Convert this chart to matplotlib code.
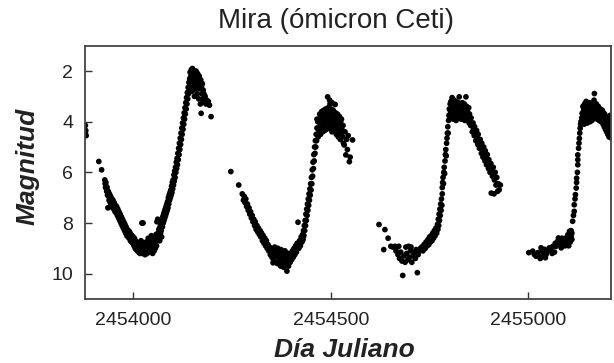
import matplotlib
matplotlib.use('Agg')
import matplotlib.pyplot as plt

plt.rcParams['font.family'] = ['Liberation Sans', 'DejaVu Sans']

# Dia juliano = jd_base + dias ; (dias, magnitud)
jd_base = 2454000

ciclo0 = [(-121, 4.15), (-120, 4.35), (-119, 4.55), (-121, 4.45)]

ciclo1 = [
    (-87, 5.57), (-80, 5.9),
    (-72, 6.3), (-71, 6.45), (-70, 6.6), (-69, 6.4), (-68, 6.55), (-67, 6.75), (-66, 6.6), (-65, 6.9),
    (-64, 7.4), (-63, 6.75), (-62, 6.95), (-61, 7.1), (-60, 6.85), (-59, 7.05), (-58, 7.2), (-57, 6.95),
    (-56, 7.15), (-55, 7.3), (-54, 7.05), (-53, 7.25), (-52, 7.4), (-51, 7.1), (-50, 7.3), (-49, 7.45),
    (-48, 7.2), (-47, 7.35), (-46, 7.55), (-45, 7.3), (-44, 7.45), (-43, 7.6), (-42, 7.35), (-41, 7.5),
    (-40, 7.7), (-39, 7.45), (-38, 7.6), (-37, 7.8), (-36, 7.55), (-35, 7.7), (-34, 7.9), (-33, 7.65),
    (-32, 7.8), (-31, 8.0), (-30, 7.75), (-29, 7.9), (-28, 8.1), (-27, 7.85), (-26, 8.0), (-25, 8.2),
    (-24, 7.95), (-23, 8.1), (-22, 8.3), (-21, 8.05), (-20, 8.2), (-19, 8.4), (-18, 8.15), (-17, 8.3),
    (-16, 8.5), (-15, 8.25), (-14, 8.4), (-13, 8.55), (-12, 8.3), (-11, 8.45), (-10, 8.6), (-9, 8.35),
    (-8, 8.5), (-7, 8.7), (-6, 8.45), (-5, 8.6), (-4, 8.75), (-3, 8.5), (-2, 8.65), (-1, 8.8), (0, 8.55),
    (1, 8.7), (2, 8.9), (3, 8.6), (4, 8.8), (5, 9.0), (6, 8.7), (7, 8.85), (8, 9.05), (9, 8.75),
    (10, 8.9), (11, 9.1), (12, 8.8), (13, 8.95), (14, 9.15), (15, 8.85), (16, 9.0), (17, 9.2),
    (18, 8.9), (19, 9.05), (20, 8.7), (21, 9.1), (22, 8.0), (23, 9.2), (24, 8.8), (25, 8.0),
    (26, 9.0), (27, 9.15), (28, 8.85), (29, 9.05), (30, 9.25), (31, 8.9), (32, 9.1), (33, 8.75),
    (34, 9.0), (35, 9.2), (36, 8.85), (37, 9.05), (38, 8.6), (39, 8.95), (40, 9.15), (41, 8.8),
    (42, 9.0), (43, 8.65), (44, 9.1), (45, 8.9), (46, 8.5), (47, 9.05), (48, 8.8), (49, 9.2),
    (50, 8.7), (51, 8.95), (52, 8.55), (53, 9.1), (54, 8.85), (55, 8.6), (56, 9.0), (57, 8.75),
    (58, 8.45), (59, 8.9), (60, 7.95), (61, 8.65), (62, 7.85), (63, 8.4), (64, 8.6), (65, 8.25),
    (66, 7.95), (67, 8.7), (68, 8.15), (69, 8.4), (70, 8.0), (71, 8.3), (72, 8.55),
    (73, 7.9), (74, 8.15), (75, 7.75), (76, 8.0), (77, 7.65), (78, 7.9), (79, 7.55), (80, 7.8),
    (81, 7.45), (82, 7.7), (83, 7.35), (84, 7.6), (85, 7.25), (86, 7.5), (87, 7.15), (88, 7.4),
    (89, 7.0), (90, 7.25), (91, 6.9), (92, 7.1), (93, 6.8), (94, 7.0), (95, 6.7), (96, 6.9),
    (97, 6.55), (98, 6.8), (99, 6.4), (100, 6.65), (101, 6.3), (102, 6.5), (103, 6.1), (104, 6.35),
    (105, 5.95), (106, 6.2), (107, 5.8), (108, 6.0), (109, 5.6), (110, 5.85), (111, 5.45), (112, 5.7),
    (113, 5.25), (114, 5.5), (115, 5.05), (116, 5.3), (117, 4.85), (118, 5.1), (119, 4.65), (120, 4.9),
    (121, 4.45), (122, 4.7), (123, 4.25), (124, 4.5), (125, 4.05), (126, 4.3), (127, 3.85), (128, 4.1),
    (129, 3.65), (130, 3.9), (131, 3.45), (132, 3.7), (133, 3.25), (134, 3.5), (135, 3.05), (136, 3.3),
    (137, 2.85), (138, 3.1), (139, 2.65), (140, 2.9), (141, 2.45), (142, 2.7), (143, 2.3),
    (144, 2.05), (145, 2.5), (146, 2.2), (147, 1.95), (148, 2.35), (149, 2.8), (150, 1.9), (151, 2.15),
    (152, 2.6), (153, 2.0), (154, 2.4), (155, 3.0), (156, 2.1), (157, 2.3), (158, 2.7), (159, 2.0),
    (160, 2.45), (161, 2.2), (162, 2.9), (163, 2.1), (164, 2.55), (165, 2.3), (166, 3.1), (167, 2.2),
    (168, 2.7), (169, 2.45), (170, 3.3), (171, 2.35), (172, 3.67), (173, 2.6), (174, 2.9), (175, 2.5),
    (176, 3.1), (177, 2.75), (178, 3.2), (179, 2.9), (180, 3.15), (182, 3.0), (184, 3.3), (186, 3.15),
    (188, 3.28), (190, 3.2), (193, 3.35), (197, 3.8), (161, 2.7), (157, 2.55), (153, 2.3), (149, 2.1),
]

ciclo2 = [
    (247, 5.97), (267, 6.5),
    (276, 6.85), (279, 7.1), (281, 6.95), (283, 7.2), (285, 7.05), (287, 7.35), (289, 7.25), (291, 7.5),
    (293, 7.4), (295, 7.65), (297, 7.55), (299, 7.8), (301, 7.7), (303, 7.95), (305, 7.85), (307, 8.1),
    (309, 7.95), (311, 8.25), (313, 8.1), (315, 8.35), (317, 8.2), (319, 8.45), (321, 8.3), (323, 8.55),
    (325, 8.4), (327, 8.7), (329, 8.5), (331, 8.8), (333, 8.6), (335, 8.9), (337, 8.7), (339, 9.0),
    (341, 8.85), (343, 9.1),
    (345, 8.95), (347, 9.25), (349, 9.05), (351, 9.35), (353, 9.15), (355, 9.45), (357, 9.2), (359, 9.55),
    (361, 9.3), (363, 9.1), (365, 9.6), (367, 9.35), (369, 9.5), (371, 9.2), (373, 9.7), (375, 9.4),
    (377, 9.55), (379, 9.25), (381, 9.75), (383, 9.45), (385, 9.6), (387, 9.3), (389, 9.9), (391, 9.5),
    (393, 9.7), (395, 9.35), (397, 9.55), (399, 9.2), (401, 9.45), (403, 9.1), (405, 9.35), (407, 9.0),
    (409, 9.25), (411, 8.9), (413, 9.15), (415, 8.8), (417, 7.97), (419, 9.0), (421, 8.7), (423, 8.9),
    (425, 8.55), (427, 8.75), (358, 8.95), (366, 9.0), (374, 9.05), (384, 9.1), (392, 9.2), (354, 9.57),
    (429, 8.45), (430, 8.65), (431, 8.3), (432, 8.5), (433, 8.1), (434, 8.3), (435, 7.9), (436, 8.1),
    (437, 7.65), (438, 7.9), (439, 7.45), (440, 7.7), (441, 7.25), (442, 7.5), (443, 7.05), (444, 7.3),
    (445, 6.85), (446, 7.1), (447, 6.65), (448, 6.9), (449, 6.45), (450, 6.7), (451, 6.2), (452, 6.45),
    (453, 5.9), (454, 6.15), (455, 5.6), (456, 5.85), (457, 5.3), (458, 5.55), (459, 5.0), (460, 5.25),
    (461, 4.75), (462, 5.0), (463, 4.5), (464, 4.75), (465, 4.25), (466, 4.5), (467, 4.0), (468, 4.3),
    (470, 3.9), (471, 4.3), (472, 3.7), (473, 4.1), (474, 4.5), (475, 3.8), (476, 4.2), (477, 3.6),
    (478, 4.0), (479, 4.4), (480, 3.7), (481, 4.15), (482, 3.55), (483, 3.95), (484, 4.35), (485, 3.75),
    (486, 4.1), (487, 3.5), (488, 3.9), (489, 4.3), (490, 3.65), (491, 4.05), (492, 3.02), (493, 3.45),
    (494, 3.85), (495, 4.25), (496, 3.6), (497, 4.0), (498, 3.3), (499, 3.75), (500, 4.2), (501, 3.5),
    (502, 3.9), (503, 4.4), (504, 3.7), (505, 4.1), (506, 3.55), (507, 3.95), (508, 4.35), (509, 3.8),
    (510, 4.2), (511, 3.32), (512, 3.65), (513, 4.05), (514, 4.5), (515, 3.85), (516, 4.25), (517, 3.7),
    (518, 4.1), (519, 4.6), (520, 3.95), (521, 4.35), (522, 3.8), (523, 4.2), (524, 4.7), (525, 4.0),
    (526, 4.45), (527, 3.9), (528, 4.3), (530, 4.6), (531, 4.15), (532, 4.85), (534, 4.92), (536, 4.4),
    (538, 5.31), (540, 4.7), (542, 5.1), (544, 4.55), (547, 5.58), (549, 5.4), (555, 4.72),
    (497, 3.15), (503, 3.25), (465, 3.9), (468, 4.6),
]

ciclo3 = [
    (622, 8.06), (637, 8.26), (645, 8.6), (634, 9.05),
    (652, 8.92), (657, 8.95), (662, 8.92), (667, 8.95), (672, 8.92), (690, 8.95), (697, 8.92), (703, 8.95),
    (665, 9.1), (670, 9.25), (674, 9.4), (677, 9.15), (680, 9.5), (682, 10.07), (685, 9.3), (688, 9.55),
    (692, 9.2), (695, 9.45), (699, 9.35), (702, 9.1), (705, 9.55), (708, 9.3), (711, 9.15), (714, 9.4),
    (716, 9.05), (719, 9.96), (721, 9.25), (724, 9.1), (727, 9.0),
    (730, 8.95), (733, 9.1), (736, 8.85), (739, 9.0), (741, 8.75), (744, 8.9), (746, 8.65), (748, 8.85),
    (750, 8.55), (752, 8.75), (754, 8.5), (756, 8.7), (758, 8.4), (760, 8.6), (762, 8.3), (764, 8.5),
    (766, 8.2), (768, 8.4), (770, 8.05), (771, 8.25), (772, 7.85), (773, 8.1), (774, 7.65), (775, 7.9),
    (776, 7.45), (777, 7.7), (778, 7.25), (779, 7.5), (780, 7.05), (781, 7.3), (782, 6.85), (782, 6.6),
    (783, 6.4), (784, 6.2), (785, 6.45), (786, 6.0), (787, 5.8), (788, 6.05), (789, 5.55), (790, 5.3),
    (791, 5.1), (792, 5.35), (793, 4.85), (794, 4.65), (795, 4.45), (796, 4.2), (797, 4.45), (798, 3.95),
    (799, 3.75), (800, 3.5), (801, 3.8), (802, 3.3),
    (803, 3.6), (804, 3.2), (805, 3.85), (806, 3.4), (807, 3.05), (808, 3.65), (809, 3.3), (810, 3.9),
    (811, 3.5), (812, 3.15), (813, 3.75), (814, 3.4), (815, 3.6), (816, 3.2), (817, 3.95), (818, 3.45),
    (819, 3.7), (820, 3.3), (821, 3.55), (822, 3.85), (823, 3.25), (824, 3.6), (825, 3.02), (826, 3.45),
    (827, 3.75), (828, 3.35), (829, 3.6), (830, 3.9), (831, 3.4), (832, 3.7), (833, 3.25), (834, 3.55),
    (835, 3.85), (836, 3.45), (837, 3.7), (838, 3.3), (839, 3.95), (840, 3.55), (842, 3.02), (843, 3.75),
    (844, 3.4), (845, 3.9), (846, 3.6), (848, 3.8), (849, 3.45), (850, 4.05), (851, 3.7),
    (852, 3.9), (854, 4.15), (855, 3.85), (857, 4.1), (858, 4.4), (860, 4.05), (861, 4.3), (863, 4.55),
    (864, 4.2), (866, 4.45), (867, 4.75), (869, 4.35), (870, 4.6), (872, 4.9), (873, 4.5), (875, 4.8),
    (876, 5.05), (878, 4.7), (879, 4.95), (881, 5.25), (882, 4.85), (884, 5.1), (885, 5.4), (887, 5.0),
    (888, 5.3), (890, 5.55), (891, 5.15), (893, 5.45), (894, 5.7), (896, 5.3), (897, 5.6), (899, 5.85),
    (900, 5.5), (902, 5.75), (903, 6.0), (905, 5.65), (906, 6.82), (907, 5.9), (909, 6.15), (911, 5.8),
    (912, 6.05), (914, 6.3), (916, 6.0), (918, 6.5), (920, 6.2), (922, 6.75), (924, 6.45), (926, 6.69),
    (929, 6.5), (913, 6.85),
]

ciclo4 = [
    (1001, 9.17), (1011, 9.11), (1015, 9.24), (1019, 9.31), (1024, 9.17), (1028, 9.31), (1032, 8.98),
    (1036, 9.11), (1041, 9.04), (1043, 9.37), (1045, 9.24), (1049, 9.1), (1053, 8.98), (1057, 9.04),
    (1062, 8.92), (1066, 9.15), (1070, 8.92), (1074, 8.72), (1076, 8.59), (1078, 8.85), (1083, 8.98),
    (1087, 8.78), (1091, 8.72), (1093, 8.9), (1095, 8.59), (1097, 8.75), (1100, 8.46), (1102, 8.65),
    (1104, 8.33), (1106, 8.55), (1108, 8.52), (1110, 8.4), (1030, 9.4), (1038, 9.25), (1060, 9.2),
    (1068, 8.8), (1080, 8.7), (1085, 8.6), (1102, 8.9), (1106, 8.75), (1108, 8.3), (1110, 8.65),
    (1112, 7.93), (1114, 7.7), (1116, 7.54), (1116, 7.28), (1118, 7.05), (1119, 6.88), (1121, 6.62),
    (1122, 6.4), (1122, 6.23), (1124, 6.0), (1125, 5.7), (1125, 5.5), (1125, 5.31), (1127, 5.05),
    (1128, 4.85), (1129, 4.66), (1130, 4.45), (1131, 4.26), (1132, 4.1), (1133, 4.0), (1135, 3.85),
    (1136, 3.67),
    (1138, 3.4), (1139, 3.8), (1140, 3.55), (1141, 4.1), (1142, 3.3), (1143, 3.7), (1144, 3.95),
    (1145, 3.45), (1146, 3.2), (1147, 3.8), (1148, 3.55), (1149, 4.05), (1150, 3.35), (1151, 3.7),
    (1152, 3.5), (1153, 3.9), (1154, 3.25), (1155, 3.65), (1156, 4.0), (1157, 3.45), (1158, 3.75),
    (1159, 3.3), (1160, 3.6), (1161, 3.95), (1162, 3.5), (1163, 3.8), (1164, 3.4), (1165, 3.65),
    (1166, 3.15), (1167, 2.89), (1168, 3.55), (1169, 3.85), (1170, 3.45), (1171, 3.7), (1172, 3.3),
    (1173, 3.6), (1174, 3.9), (1175, 3.5), (1176, 3.75), (1177, 3.4), (1178, 3.65), (1179, 3.95),
    (1180, 3.55), (1181, 3.8), (1182, 3.5), (1183, 3.7), (1184, 4.0), (1185, 3.6), (1186, 3.85),
    (1187, 3.55), (1188, 3.75), (1189, 4.1), (1190, 3.65), (1191, 3.9), (1192, 4.2), (1193, 3.7),
    (1194, 3.95), (1195, 4.3), (1196, 3.8), (1197, 4.05), (1198, 4.4), (1199, 3.85), (1200, 4.15),
    (1201, 4.5), (1202, 3.9), (1203, 4.2), (1204, 4.6), (1205, 4.0), (1206, 4.3), (1207, 3.75),
    (1208, 4.45), (1209, 4.1), (1210, 4.65), (1211, 3.9), (1212, 4.35),
]

ciclos = [ciclo0, ciclo1, ciclo2, ciclo3, ciclo4]

ticks_x = [2454000, 2454500, 2455000]
etiquetas_x = ['2454000', '2454500', '2455000']
ticks_y = [2, 4, 6, 8, 10]

fig = plt.figure(figsize=(6.14, 3.63), dpi=100)
ax = fig.add_axes([0.1384, 0.1763, 0.8567, 0.6978])

for c in ciclos:
    x = [jd_base + d for d, m in c]
    y = [m for d, m in c]
    ax.scatter(x, y, s=17, c='black', edgecolors='none')

ax.set_xlim(2453878, 2455209)
ax.set_ylim(11, 1)
ax.set_xticks(ticks_x)
ax.set_xticklabels(etiquetas_x)
ax.set_yticks(ticks_y)
ax.tick_params(axis='both', direction='in', length=5, width=1, labelsize=14,
               color='#333333', labelcolor='#222222')
ax.tick_params(axis='x', pad=9)
ax.tick_params(axis='y', pad=8.5)
for s in ax.spines.values():
    s.set_linewidth(1.3)
    s.set_color('#444444')

fig.text(0.547, 1 - 28.3 / 363, 'Mira (ómicron Ceti)', ha='center', va='baseline',
         fontsize=20, color='#222222')
fig.text(0.561, 1 - 350 / 363, 'Día Juliano', ha='center', va='center',
         fontsize=19, fontweight='bold', fontstyle='italic', color='#222222')
fig.text(0.045, 1 - 166 / 363, 'Magnitud', ha='center', va='center', rotation=90,
         fontsize=19, fontweight='bold', fontstyle='italic', color='#222222')

fig.savefig('out.png', dpi=100)
